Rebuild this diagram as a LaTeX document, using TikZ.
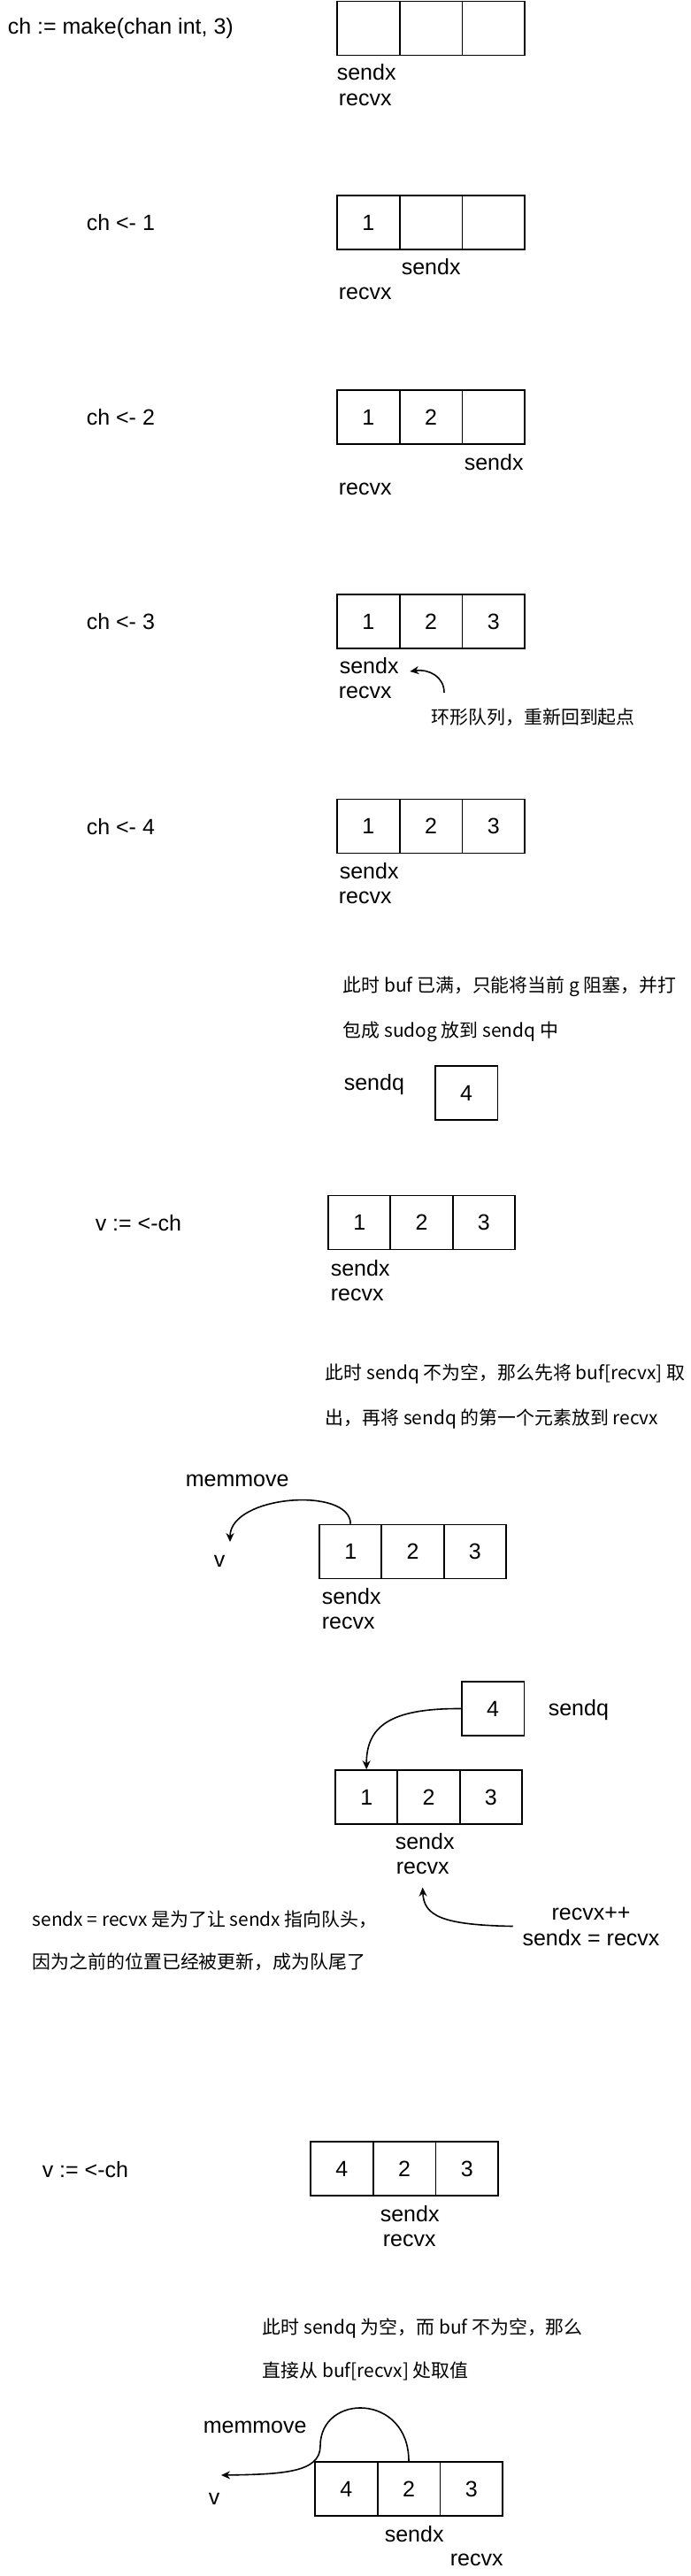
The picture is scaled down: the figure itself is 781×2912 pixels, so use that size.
\documentclass[tikz,border=0pt]{standalone}
\usepackage{fontspec}
\setmainfont{Liberation Sans}
\newfontfamily\cjk{Noto Sans CJK SC}
\usetikzlibrary{arrows.meta}

\begin{document}
\begin{tikzpicture}[x=0.5pt, y=-0.5pt, line width=0.8pt,
  >={Stealth[length=5pt,width=4.5pt]},
  cell/.style={draw, minimum width=35.3pt, minimum height=30.5pt, inner sep=0pt, font=\fontsize{12.5}{15}\selectfont},
  lbl/.style={anchor=west, inner sep=0pt, font=\fontsize{12.5}{15}\selectfont},
  note/.style={anchor=west, inner sep=0pt, font=\cjk\fontsize{10.45}{13}\selectfont}]
  \useasboundingbox (0,0) rectangle (781,2912);

  % make
  \node[lbl] (t1) at (8,32) {ch := make(chan int, 3)};
  \node[cell] (b1a) at (416.3,32) {};
  \node[cell] (b1b) at (487,32) {};
  \node[cell] (b1c) at (557.7,32) {};
  \node[lbl] (s1) at (380,82) {sendx};
  \node[lbl] (r1) at (382,113) {recvx};

  % ch <- 1
  \node[lbl] (t2) at (97,252) {ch <- 1};
  \node[cell] (b2a) at (416.3,251.5) {1};
  \node[cell] (b2b) at (487,251.5) {};
  \node[cell] (b2c) at (557.7,251.5) {};
  \node[lbl] (s2) at (453,302) {sendx};
  \node[lbl] (r2) at (382,332) {recvx};

  % ch <- 2
  \node[lbl] (t3) at (97,472) {ch <- 2};
  \node[cell] (b3a) at (416.3,471.5) {1};
  \node[cell] (b3b) at (487,471.5) {2};
  \node[cell] (b3c) at (557.7,471.5) {};
  \node[lbl] (s3) at (524,523) {sendx};
  \node[lbl] (r3) at (382,553) {recvx};

  % ch <- 3
  \node[lbl] (t4) at (97,703) {ch <- 3};
  \node[cell] (b4a) at (416.3,702.5) {1};
  \node[cell] (b4b) at (487,702.5) {2};
  \node[cell] (b4c) at (557.7,702.5) {3};
  \node[lbl] (s4) at (383,753) {sendx};
  \node[lbl] (r4) at (382,783) {recvx};
  \node[note] (n4) at (487,811) {环形队列，重新回到起点};
  \coordinate (a4) at (502,783);
  \draw[->] (a4) .. controls (502,765) and (485,756) .. ([xshift=6pt,yshift=-3pt]s4.east);

  % ch <- 4
  \node[lbl] (t5) at (97,935) {ch <- 4};
  \node[cell] (b5a) at (416.3,934) {1};
  \node[cell] (b5b) at (487,934) {2};
  \node[cell] (b5c) at (557.7,934) {3};
  \node[lbl] (s5) at (383,985) {sendx};
  \node[lbl] (r5) at (382,1015) {recvx};
  \node[note] (n5a) at (387,1115) {此时 buf 已满，只能将当前 g 阻塞，并打};
  \node[note] (n5b) at (387,1166) {包成 sudog 放到 sendq 中};
  \node[lbl] (q5l) at (388,1226) {sendq};
  \node[cell] (q5) at (527,1235.5) {4};

  % v := <-ch
  \node[lbl] (t6) at (107,1383) {v := <-ch};
  \node[cell] (b6a) at (406.2,1382) {1};
  \node[cell] (b6b) at (476.5,1382) {2};
  \node[cell] (b6c) at (546.8,1382) {3};
  \node[lbl] (s6) at (373,1434) {sendx};
  \node[lbl] (r6) at (373,1464) {recvx};
  \node[note] (n6a) at (367,1553) {此时 sendq 不为空，那么先将 buf[recvx] 取};
  \node[note] (n6b) at (367,1604) {出，再将 sendq 的第一个元素放到 recvx};

  % memmove 1
  \node[lbl] (m7) at (209,1674) {memmove};
  \node[lbl] (v7) at (241,1765) {v};
  \node[cell] (b7a) at (396.2,1754) {1};
  \node[cell] (b7b) at (466.5,1754) {2};
  \node[cell] (b7c) at (536.8,1754) {3};
  \node[lbl] (s7) at (363,1805) {sendx};
  \node[lbl] (r7) at (363,1835) {recvx};
  \coordinate (e7) at (260,1743);
  \draw[->] (b7a.north) .. controls (396,1680) and (260,1690) .. (e7);

  % sendq -> buf
  \node[cell] (q8) at (557,1931.5) {4};
  \node[lbl] (q8l) at (619,1933) {sendq};
  \node[cell] (b8a) at (414.2,2031.5) {1};
  \node[cell] (b8b) at (484.5,2031.5) {2};
  \node[cell] (b8c) at (554.8,2031.5) {3};
  \node[lbl] (s8) at (446,2082) {sendx};
  \node[lbl] (r8) at (447,2112) {recvx};
  \draw[->] (q8.west) .. controls (440,1931) and (414,1952) .. (b8a.north);
  \node[inner sep=0pt, align=center, font=\fontsize{12.5}{14.5}\selectfont] (upd) at (668,2177.5) {recvx++\\sendx = recvx};
  \draw[->] ([xshift=-5pt]upd.west) .. controls (500,2176) and (479,2166) .. ([yshift=-7pt]r8.south);
  \node[note] (n8a) at (36,2170) {sendx = recvx 是为了让 sendx 指向队头，};
  \node[note] (n8b) at (36,2218) {因为之前的位置已经被更新，成为队尾了};

  % v := <-ch again
  \node[lbl] (t9) at (47,2453) {v := <-ch};
  \node[cell] (b9a) at (386.3,2451.5) {4};
  \node[cell] (b9b) at (457,2451.5) {2};
  \node[cell] (b9c) at (527.7,2451.5) {3};
  \node[lbl] (s9) at (429,2503) {sendx};
  \node[lbl] (r9) at (432,2533) {recvx};
  \node[note] (n9a) at (296,2632) {此时 sendq 为空，而 buf 不为空，那么};
  \node[note] (n9b) at (296,2680) {直接从 buf[recvx] 处取值};

  % memmove 2
  \node[lbl] (m10) at (229,2744) {memmove};
  \node[lbl] (v10) at (235,2825) {v};
  \node[cell] (b10a) at (391.3,2813.5) {4};
  \node[cell] (b10b) at (462,2813.5) {2};
  \node[cell] (b10c) at (532.7,2813.5) {3};
  \node[lbl] (s10) at (434,2865) {sendx};
  \node[lbl] (r10) at (508,2894) {recvx};
  \coordinate (e10) at (250,2798);
  \draw[->] (b10b.north) .. controls (462,2705) and (362,2705) .. (362,2765)
    .. controls (362,2795) and (320,2797) .. (e10);
\end{tikzpicture}
\end{document}
